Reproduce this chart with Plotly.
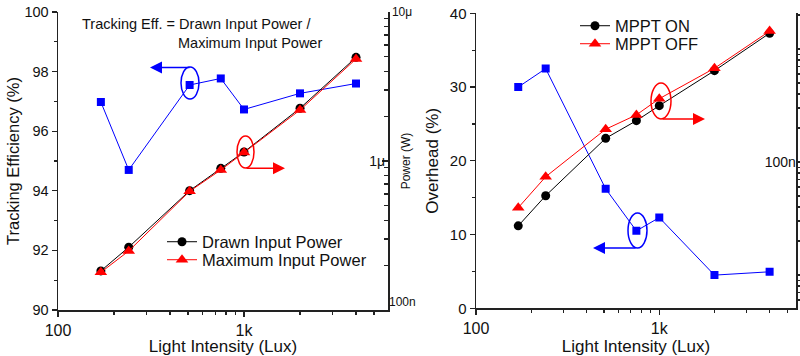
import plotly.graph_objects as go

# ---------------- data ----------------
lux = [170, 240, 510, 750, 1000, 2000, 4000]

tracking_eff = [96.98, 94.70, 97.55, 97.77, 96.73, 97.27, 97.60]          # %
drawn_power = [183e-9, 264e-9, 632e-9, 893e-9, 1.15e-6, 2.26e-6, 4.96e-6]  # W
max_power = [179e-9, 249e-9, 626e-9, 871e-9, 1.14e-6, 2.20e-6, 4.84e-6]    # W

overhead = [30.0, 32.5, 16.2, 10.5, 12.3, 4.5, 4.95]                      # %
mppt_on = [27.2e-9, 50.3e-9, 162e-9, 232e-9, 315e-9, 643e-9, 1.38e-6]     # W
mppt_off = [39.4e-9, 74e-9, 195e-9, 261e-9, 363e-9, 675e-9, 1.44e-6]      # W

x_tickvals = [100, 1000]
x_ticktext = ["100", "1k"]
x_minor = [200, 300, 400, 500, 600, 700, 800, 900, 2000, 3000, 4000, 5000]

eff_ticks = [90, 92, 94, 96, 98, 100]
eff_minor = [91, 93, 95, 97, 99]
ovh_ticks = [0, 10, 20, 30, 40]
ovh_minor = [5, 15, 25, 35]

# ---------------- style ----------------
FONT = "Liberation Sans, Arial, sans-serif"
AX = "#222222"
BLUE = "#0000FF"
RED = "#FF0000"
BLACK = "#000000"

W, H = 800, 356
# plot area in window pixels: x 58..796, y 12..310
ML, MT = 58, 12
MR = W - 796
MB = H - 310
PW, PH = W - ML - MR, H - MT - MB


def px(x):  # window pixel -> paper fraction
    return (x - ML) / PW


def py(y):
    return (H - MB - y) / PH


fig = go.Figure()

# left panel
fig.add_trace(go.Scatter(x=lux, y=tracking_eff, xaxis="x", yaxis="y",
                         mode="lines+markers", showlegend=False,
                         line=dict(color=BLUE, width=1),
                         marker=dict(symbol="square", size=8, color=BLUE)))
# invisible carriers so that the helper power axes (labels/title) are drawn
for helper in ("y5", "y6"):
    fig.add_trace(go.Scatter(x=lux, y=drawn_power, xaxis="x", yaxis=helper,
                             mode="lines", showlegend=False, hoverinfo="skip",
                             line=dict(color="rgba(0,0,0,0)", width=0)))
fig.add_trace(go.Scatter(x=lux, y=drawn_power, xaxis="x", yaxis="y2",
                         mode="lines+markers", name="Drawn Input Power", legend="legend",
                         line=dict(color=BLACK, width=1),
                         marker=dict(symbol="circle", size=9, color=BLACK)))
fig.add_trace(go.Scatter(x=lux, y=max_power, xaxis="x", yaxis="y2",
                         mode="lines+markers", name="Maximum Input Power", legend="legend2",
                         line=dict(color=RED, width=1),
                         marker=dict(symbol="triangle-up", size=11, color=RED)))

# right panel
fig.add_trace(go.Scatter(x=lux, y=overhead, xaxis="x2", yaxis="y3",
                         mode="lines+markers", showlegend=False,
                         line=dict(color=BLUE, width=1),
                         marker=dict(symbol="square", size=8, color=BLUE)))
fig.add_trace(go.Scatter(x=lux, y=mppt_on, xaxis="x2", yaxis="y4",
                         mode="lines+markers", name="MPPT ON", legend="legend3",
                         line=dict(color=BLACK, width=1),
                         marker=dict(symbol="circle", size=9, color=BLACK)))
fig.add_trace(go.Scatter(x=lux, y=mppt_off, xaxis="x2", yaxis="y4",
                         mode="lines+markers", name="MPPT OFF", legend="legend4",
                         line=dict(color=RED, width=1),
                         marker=dict(symbol="triangle-up", size=11, color=RED)))

common = dict(showgrid=False, zeroline=False, showline=True, linecolor=AX,
              linewidth=1.5, tickcolor=AX, tickwidth=1.2, automargin=False,
              ticklabeloverflow="allow")


def xaxis_cfg(domain, anchor, rng):
    return dict(**common, type="log", domain=domain, anchor=anchor, range=rng,
                tickmode="array", tickvals=x_tickvals, ticktext=x_ticktext,
                ticks="outside", ticklen=5,
                minor=dict(tickmode="array", tickvals=x_minor, ticks="outside",
                           ticklen=3, tickcolor=AX, tickwidth=1.2),
                tickfont=dict(family=FONT, size=16, color="#111"),
                title=dict(text="Light Intensity (Lux)", standoff=3,
                           font=dict(family=FONT, size=17, color="#111")))


p_minor_left = [k * 1e-7 for k in range(2, 10)] + [k * 1e-6 for k in range(2, 10)]
p_minor_right = ([k * 1e-9 for k in range(6, 10)] + [k * 1e-8 for k in range(2, 10)]
                 + [k * 1e-7 for k in range(2, 10)] + [2e-6])

helper_axis = dict(showgrid=False, zeroline=False, showline=False, automargin=False,
                   overlaying="y", side="right", anchor="x", type="log", range=[-7, -5],
                   tickmode="array", ticks="", ticklabeloverflow="allow")

fig.update_layout(
    width=W, height=H,
    margin=dict(l=ML, r=MR, t=MT, b=MB, pad=0),
    paper_bgcolor="white", plot_bgcolor="white",
    font=dict(family=FONT, size=14, color="#111"),
    hovermode=False,
    xaxis=xaxis_cfg([0, px(388)], "y", [2, 3.774]),
    xaxis2=xaxis_cfg([px(476), 1.0], "y3", [2, 3.746]),
    yaxis=dict(**common, domain=[0, 1], anchor="x", range=[90, 100],
               tickmode="array", tickvals=eff_ticks, ticks="outside", ticklen=5,
               minor=dict(tickmode="array", tickvals=eff_minor, ticks="outside",
                          ticklen=3, tickcolor=AX, tickwidth=1.2),
               tickfont=dict(family=FONT, size=14.5, color="#111"),
               title=dict(text="Tracking Efficiency (%)", standoff=0,
                          font=dict(family=FONT, size=16.5, color="#111"))),
    yaxis2=dict(**common, overlaying="y", side="right", anchor="x", type="log",
                range=[-7, -5], tickmode="array", tickvals=[1e-7, 1e-6, 1e-5],
                ticktext=["", "", "10μ"], ticks="inside", ticklen=6,
                minor=dict(tickmode="array", tickvals=p_minor_left, ticks="inside",
                           ticklen=4, tickcolor=AX, tickwidth=1.2),
                tickfont=dict(family=FONT, size=12, color="#111")),
    yaxis5=dict(**helper_axis, tickvals=[1e-6], ticktext=["1μ"],
                ticklabelposition="inside",
                tickfont=dict(family=FONT, size=14, color="#111"),
                title=dict(text="Power (W)", standoff=17,
                           font=dict(family=FONT, size=12, color="#111"))),
    yaxis6=dict(**helper_axis, tickvals=[1e-7], ticktext=["100n"],
                ticklabelposition="outside top",
                tickfont=dict(family=FONT, size=12, color="#111")),
    yaxis3=dict(**common, domain=[py(308.3), py(13.3)], anchor="x2", range=[0, 40],
                tickmode="array", tickvals=ovh_ticks, ticks="outside", ticklen=5,
                minor=dict(tickmode="array", tickvals=ovh_minor, ticks="outside",
                           ticklen=3, tickcolor=AX, tickwidth=1.2),
                tickfont=dict(family=FONT, size=15, color="#111"),
                title=dict(text="Overhead (%)", standoff=7,
                           font=dict(family=FONT, size=17, color="#111"))),
    yaxis4=dict(**common, overlaying="y3", side="right", anchor="x2", type="log",
                range=[-8.295, -5.684], tickmode="array", tickvals=[1e-8, 1e-7, 1e-6],
                ticktext=["", "100n", ""], ticks="outside", ticklen=6,
                ticklabelposition="inside",
                minor=dict(tickmode="array", tickvals=p_minor_right, ticks="outside",
                           ticklen=3, tickcolor=AX, tickwidth=1.2),
                tickfont=dict(family=FONT, size=14, color="#111")),
)

leg_common = dict(bgcolor="rgba(0,0,0,0)", borderwidth=0, xanchor="left",
                  yanchor="middle", font=dict(family=FONT, size=16.5, color="#111"))
fig.update_layout(
    legend=dict(**leg_common, x=px(162), y=py(242)),
    legend2=dict(**leg_common, x=px(162), y=py(260)),
    legend3=dict(**leg_common, x=px(575), y=py(26)),
    legend4=dict(**leg_common, x=px(575), y=py(44)),
)

# equation text
fig.add_annotation(x=px(80), y=py(24), xref="paper", yref="paper", xanchor="left",
                   yanchor="middle", showarrow=False,
                   text="Tracking Eff. = Drawn Input Power /",
                   font=dict(family=FONT, size=14.5, color="#111"))
fig.add_annotation(x=px(176), y=py(42.5), xref="paper", yref="paper", xanchor="left",
                   yanchor="middle", showarrow=False, text="Maximum Input Power",
                   font=dict(family=FONT, size=14.5, color="#111"))

# ellipses marking series, with arrows toward the related axis
ellipses = [  # (x0, x1, y0, y1, color) in window pixels
    (181, 199, 67, 99, BLUE),
    (237, 254, 136, 168, RED),
    (651, 671, 83, 119, RED),
    (628, 647, 213, 248, BLUE),
]
for x0, x1, y0, y1, c in ellipses:
    fig.add_shape(type="circle", xref="paper", yref="paper",
                  x0=px(x0), x1=px(x1), y0=py(y1), y1=py(y0),
                  line=dict(color=c, width=1.5))

arrows = [  # (tail_x, tail_y, head_x, head_y, color)
    (191, 67.5, 150, 67.5, BLUE),
    (245, 168.3, 285, 168.3, RED),
    (661, 119, 705, 119, RED),
    (637, 248, 593, 248, BLUE),
]
for tx, ty, hx, hy, c in arrows:
    fig.add_annotation(x=px(hx), y=py(hy), xref="paper", yref="paper",
                       ax=tx - hx, ay=ty - hy, axref="pixel", ayref="pixel",
                       showarrow=True, text="", arrowhead=2, arrowsize=1.6,
                       arrowwidth=1.5, arrowcolor=c)

# the page body gets no margin so the 800x356 figure fills the window exactly
fig.write_html("out.html",
               config={"displayModeBar": False, "staticPlot": True},
               post_script="document.body.style.margin='0';document.body.style.overflow='hidden';")
